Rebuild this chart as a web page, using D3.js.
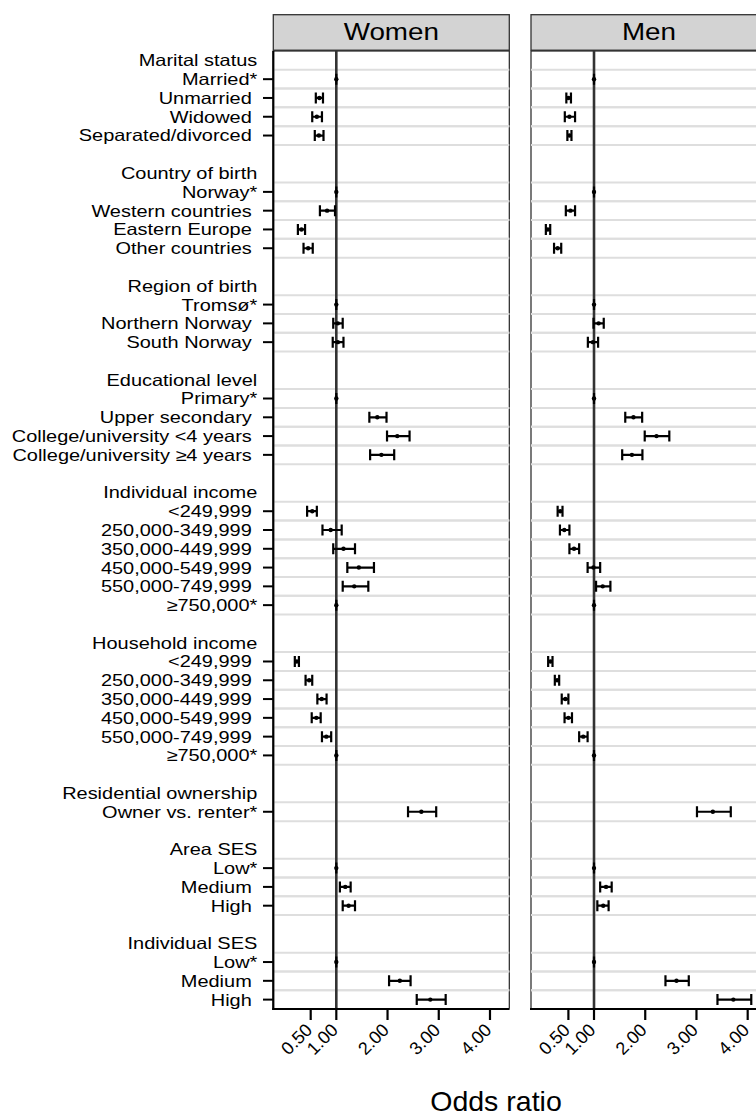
<!DOCTYPE html>
<html>
<head>
<meta charset="utf-8">
<script src="https://cdn.jsdelivr.net/npm/d3@7"></script>
<style>
  body { margin: 0; background: #fff; }
  text { font-family: "Liberation Sans", Arial, sans-serif; fill: #000; }
</style>
</head>
<body>
<div id="chart"></div>
<script>
// group headings (no tick, no estimate)
var headings = ["Marital status", "Country of birth", "Region of birth", "Educational level",
  "Individual income", "Household income", "Residential ownership", "Area SES", "Individual SES"];

// one entry per row on the y axis, "" = spacer row
var rowLabels = [
  "Marital status", "Married*", "Unmarried ", "Widowed ", "Separated/divorced ", "",
  "Country of birth", "Norway*", "Western countries ", "Eastern Europe ", "Other countries ", "",
  "Region of birth", "Tromsø*", "Northern Norway ", "South Norway ", "",
  "Educational level", "Primary*", "Upper secondary ", "College/university <4 years ", "College/university ≥4 years ", "",
  "Individual income", "<249,999 ", "250,000-349,999 ", "350,000-449,999 ", "450,000-549,999 ", "550,000-749,999 ", "≥750,000*", "",
  "Household income", "<249,999 ", "250,000-349,999 ", "350,000-449,999 ", "450,000-549,999 ", "550,000-749,999 ", "≥750,000*", "",
  "Residential ownership", "Owner vs. renter*", "",
  "Area SES", "Low*", "Medium ", "High ", "",
  "Individual SES", "Low*", "Medium ", "High "
];

// odds ratios for the item rows, in order
var womenOR = [1, 0.67, 0.62, 0.66, 1, 0.82, 0.32, 0.45, 1, 1.03, 1.03, 1, 1.80, 2.19, 1.88,
  0.53, 0.89, 1.14, 1.44, 1.35, 1, 0.23, 0.47, 0.715, 0.61, 0.805, 1, 2.66, 1, 1.175, 1.24, 1, 2.24, 2.835];
var womenLo = [1, 0.60, 0.53, 0.58, 1, 0.68, 0.25, 0.36, 1, 0.94, 0.93, 1, 1.645, 1.99, 1.66,
  0.43, 0.73, 0.94, 1.215, 1.125, 1, 0.19, 0.40, 0.63, 0.52, 0.72, 1, 2.40, 1, 1.07, 1.125, 1, 2.03, 2.57];
var womenHi = [1, 0.74, 0.72, 0.75, 1, 0.975, 0.39, 0.54, 1, 1.125, 1.14, 1, 1.98, 2.43, 2.13,
  0.62, 1.105, 1.365, 1.735, 1.625, 1, 0.27, 0.53, 0.81, 0.695, 0.90, 1, 2.95, 1, 1.28, 1.365, 1, 2.45, 3.135];

var menOR = [1, 0.50, 0.52, 0.52, 1, 0.54, 0.10, 0.29, 1, 1.09, 0.98, 1, 1.77, 2.22, 1.74,
  0.34, 0.42, 0.61, 0.99, 1.17, 1, 0.15, 0.28, 0.44, 0.50, 0.79, 1, 3.32, 1, 1.235, 1.18, 1, 2.61, 3.72];
var menLo = [1, 0.46, 0.43, 0.48, 1, 0.45, 0.06, 0.22, 1, 0.99, 0.88, 1, 1.61, 1.99, 1.55,
  0.29, 0.335, 0.52, 0.875, 1.04, 1, 0.105, 0.235, 0.37, 0.425, 0.71, 1, 3.01, 1, 1.12, 1.065, 1, 2.395, 3.41];
var menHi = [1, 0.55, 0.63, 0.56, 1, 0.63, 0.145, 0.36, 1, 1.19, 1.08, 1, 1.94, 2.47, 1.945,
  0.385, 0.52, 0.71, 1.12, 1.32, 1, 0.19, 0.32, 0.50, 0.57, 0.875, 1, 3.67, 1, 1.345, 1.285, 1, 2.85, 4.07];

var panelNames = ["Women", "Men"];
var xTicks = [0.5, 1, 2, 3, 4];
var xTickLabels = ["0.50", "1.00", "2.00", "3.00", "4.00"];

var width = 756, height = 1115;
var plotTop = 51, plotBottom = 1009;
var panelLeft = [273.3, 531], panelW = 236;
var stretch = 1.21; // labels in the picture are drawn wide

var svg = d3.select("#chart").append("svg")
  .attr("width", width).attr("height", height);

var y = d3.scaleBand().domain(d3.range(rowLabels.length)).range([plotTop, plotBottom]);
var bw = y.bandwidth();
function yc(i) { return y(i) + bw / 2; }

// which rows carry an estimate
var items = [];
rowLabels.forEach(function (l, i) {
  if (l !== "" && headings.indexOf(l) < 0) items.push(i);
});

var series = [
  { or: womenOR, lo: womenLo, hi: womenHi },
  { or: menOR, lo: menLo, hi: menHi }
];

// y labels
svg.append("g").selectAll("text")
  .data(rowLabels.map(function (l, i) { return { l: l, i: i }; }).filter(function (d) { return d.l !== ""; }))
  .enter().append("text")
  .attr("transform", function (d) { return "translate(257.3," + yc(d.i) + ") scale(" + stretch + ",1)"; })
  .attr("dy", "0.36em")
  .attr("text-anchor", "end")
  .style("white-space", "pre")
  .style("font-size", "16.5px")
  .text(function (d) { return d.l; });

// y ticks
svg.append("g").selectAll("line").data(items).enter().append("line")
  .attr("x1", 263).attr("x2", panelLeft[0])
  .attr("y1", yc).attr("y2", yc)
  .attr("stroke", "#000").attr("stroke-width", 2);

panelNames.forEach(function (name, p) {
  var x0 = panelLeft[p];
  var x = d3.scaleLinear().domain([-0.23, 4.377]).range([x0, x0 + panelW]);
  var g = svg.append("g");

  // strip
  g.append("rect")
    .attr("x", x0).attr("y", 14.7).attr("width", panelW).attr("height", 35.5)
    .attr("fill", "#d3d3d3").attr("stroke", "#333").attr("stroke-width", 1.3);
  g.append("text")
    .attr("transform", "translate(" + (x0 + panelW / 2) + ",39.5) scale(" + stretch + ",1)")
    .attr("text-anchor", "middle")
    .style("font-size", "23px")
    .text(name);

  // panel border
  g.append("rect")
    .attr("x", x0).attr("y", plotTop).attr("width", panelW).attr("height", plotBottom - plotTop)
    .attr("fill", "none").attr("stroke", "#222").attr("stroke-width", 1.2);

  // grey separators above and below every item row
  var seps = [];
  items.forEach(function (i) { seps.push(y(i)); seps.push(y(i) + bw); });
  g.append("g").selectAll("line").data(seps).enter().append("line")
    .attr("x1", x0 + (p === 0 ? 1 : 0)).attr("x2", x0 + panelW)
    .attr("y1", function (d) { return d; }).attr("y2", function (d) { return d; })
    .attr("stroke", "#dedede").attr("stroke-width", 2);

  // reference line at OR = 1
  g.append("line")
    .attr("x1", x(1)).attr("x2", x(1)).attr("y1", plotTop).attr("y2", plotBottom)
    .attr("stroke", "#333").attr("stroke-width", 2.6);

  // error bars
  var s = series[p];
  var capH = 11;
  var bars = g.append("g").selectAll("g").data(items).enter().append("g");
  bars.append("path")
    .attr("d", function (r, k) {
      var a = x(s.lo[k]), b = x(s.hi[k]), cy = yc(r);
      return "M" + a + "," + (cy - capH / 2) + "V" + (cy + capH / 2) +
        "M" + a + "," + cy + "H" + b +
        "M" + b + "," + (cy - capH / 2) + "V" + (cy + capH / 2);
    })
    .attr("fill", "none").attr("stroke", "#000").attr("stroke-width", 2.2);
  bars.append("circle")
    .attr("cx", function (r, k) { return x(s.or[k]); })
    .attr("cy", yc)
    .attr("r", 2.2).attr("fill", "#000");

  // axis lines
  g.append("line")
    .attr("x1", x0 - 1).attr("x2", x0 + panelW).attr("y1", plotBottom).attr("y2", plotBottom)
    .attr("stroke", "#000").attr("stroke-width", 2.2);
  if (p === 0) {
    g.append("line")
      .attr("x1", x0).attr("x2", x0).attr("y1", plotTop).attr("y2", plotBottom + 1)
      .attr("stroke", "#000").attr("stroke-width", 2.2);
  }

  // x ticks + labels
  var tk = g.append("g").selectAll("g").data(xTicks).enter().append("g");
  tk.append("line")
    .attr("x1", x).attr("x2", x).attr("y1", plotBottom).attr("y2", plotBottom + 11)
    .attr("stroke", "#000").attr("stroke-width", 2.2);
  tk.append("text")
    .attr("transform", function (d) { return "translate(" + (x(d) - 6.5) + "," + (plotBottom + 13) + ") rotate(-45)"; })
    .attr("text-anchor", "end")
    .attr("dy", "0.72em")
    .style("font-size", "18px")
    .text(function (d, k) { return xTickLabels[k]; });
});

// x axis title
svg.append("text")
  .attr("x", 496).attr("y", 1111)
  .attr("text-anchor", "middle")
  .style("font-size", "28.5px")
  .text("Odds ratio");
</script>
</body>
</html>
